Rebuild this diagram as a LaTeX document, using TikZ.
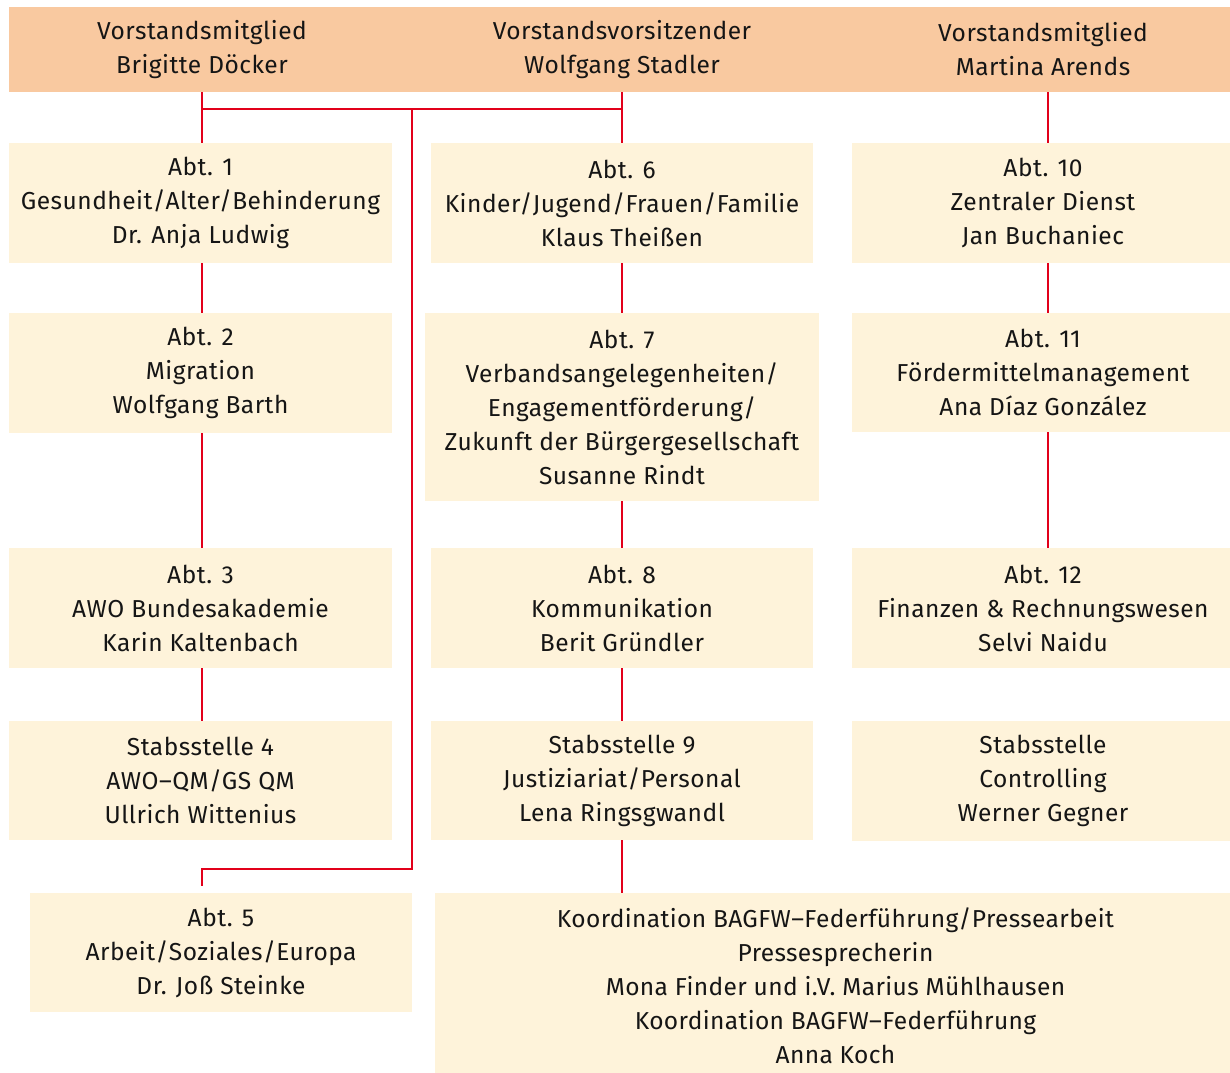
\documentclass[tikz,border=0pt]{standalone}
\usepackage{fontspec}
\setmainfont{Fira Sans}[LetterSpace=2]
\newfontfamily\condfont{Fira Sans}[LetterSpace=1.5]
\definecolor{bandc}{HTML}{F9C9A0}
\definecolor{boxc}{HTML}{FEF3DA}
\definecolor{linec}{HTML}{E2001A}
\definecolor{txtc}{HTML}{151515}
\begin{document}
\begin{tikzpicture}[x=0.75pt,y=-0.75pt,
  every node/.style={inner sep=0pt, outer sep=0pt, text=txtc, align=center,
    font=\fontsize{18.4pt}{25.5pt}\selectfont},
  unit/.style={fill=boxc, minimum width=382*0.75pt, minimum height=120*0.75pt},
  head/.style={minimum height=85*0.75pt, minimum width=380*0.75pt},
  conn/.style={draw=linec, line width=2.2pt}]
\useasboundingbox (0,0) rectangle (1230,1072);
\fill[bandc] (9,7) rectangle (1236,92);
% heads
\node[head] (t1) at (202,49.5) {Vorstandsmitglied\\Brigitte Döcker};
\node[head] (t2) at (622,49.5) {Vorstandsvorsitzender\\Wolfgang Stadler};
\node[head] (t3) at (1043,49.5) {Vorstandsmitglied\\Martina Arends};
% column 1
\node[unit, minimum width=383*0.75pt] (a1) at (200.5,203) {Abt. 1\\Gesundheit/Alter/Behinderung\\Dr. Anja Ludwig};
\node[unit, minimum width=383*0.75pt] (a2) at (200.5,373) {Abt. 2\\Migration\\Wolfgang Barth};
\node[unit, minimum width=383*0.75pt] (a3) at (200.5,608) {Abt. 3\\AWO Bundesakademie\\Karin Kaltenbach};
\node[unit, minimum width=383*0.75pt, minimum height=119*0.75pt] (s4) at (200.5,780.5) {Stabsstelle 4\\AWO–QM/GS QM\\Ullrich Wittenius};
\node[unit, minimum height=119*0.75pt] (a5) at (221,952.5) {Abt. 5\\Arbeit/Soziales/Europa\\Dr. Joß Steinke};
% column 2
\node[unit] (a6) at (622,203) {Abt. 6\\Kinder/Jugend/Frauen/Familie\\Klaus Theißen};
\node[unit, minimum width=394*0.75pt, minimum height=188*0.75pt] (a7) at (622,407) {Abt. 7\\Verbandsangelegenheiten/\\Engagementförderung/\\Zukunft der Bürgergesellschaft\\Susanne Rindt};
\node[unit] (a8) at (622,608) {Abt. 8\\Kommunikation\\Berit Gründler};
\node[unit, minimum height=119*0.75pt] (s9) at (622,780.5) {Stabsstelle 9\\Justiziariat/Personal\\Lena Ringsgwandl};
\node[unit, minimum width=801*0.75pt, minimum height=186*0.75pt, font=\condfont\fontsize{18.4pt}{25.5pt}\selectfont] (ko) at (835.5,986) {Koordination BAGFW–Federführung/Pressearbeit\\Pressesprecherin\\Mona Finder und i.V. Marius Mühlhausen\\Koordination BAGFW–Federführung\\Anna Koch};
% column 3
\node[unit] (a10) at (1043,203) {Abt. 10\\Zentraler Dienst\\Jan Buchaniec};
\node[unit, minimum height=119*0.75pt] (a11) at (1043,372.5) {Abt. 11\\Fördermittelmanagement\\Ana Díaz González};
\node[unit] (a12) at (1043,608) {Abt. 12\\Finanzen \& Rechnungswesen\\Selvi Naidu};
\node[unit] (sc) at (1043,781) {Stabsstelle\\Controlling\\Werner Gegner};
% helper coordinates
\coordinate (j) at (622,109);
\coordinate (rx) at (1048,0);
\coordinate (k) at (412,869);
\coordinate (e5) at (202,886);
% connectors
\draw[conn] (t1.south) -- (a1.north -| t1.south);
\draw[conn] (a1.south -| t1.south) -- (a2.north -| t1.south);
\draw[conn] (a2.south -| t1.south) -- (a3.north -| t1.south);
\draw[conn] (a3.south -| t1.south) -- (s4.north -| t1.south);
\draw[conn] (t1.south |- j) -- (j);
\draw[conn] (t2.south) -- (a6.north);
\draw[conn] (a6.south) -- (a7.north);
\draw[conn] (a7.south) -- (a8.north);
\draw[conn] (a8.south) -- (s9.north);
\draw[conn] (s9.south) -- (ko.north -| s9.south);
\draw[conn] (k |- j) -- (k) -- (k -| e5) -- (e5);
\draw[conn] (t3.south -| rx) -- (a10.north -| rx);
\draw[conn] (a10.south -| rx) -- (a11.north -| rx);
\draw[conn] (a11.south -| rx) -- (a12.north -| rx);
\end{tikzpicture}
\end{document}
